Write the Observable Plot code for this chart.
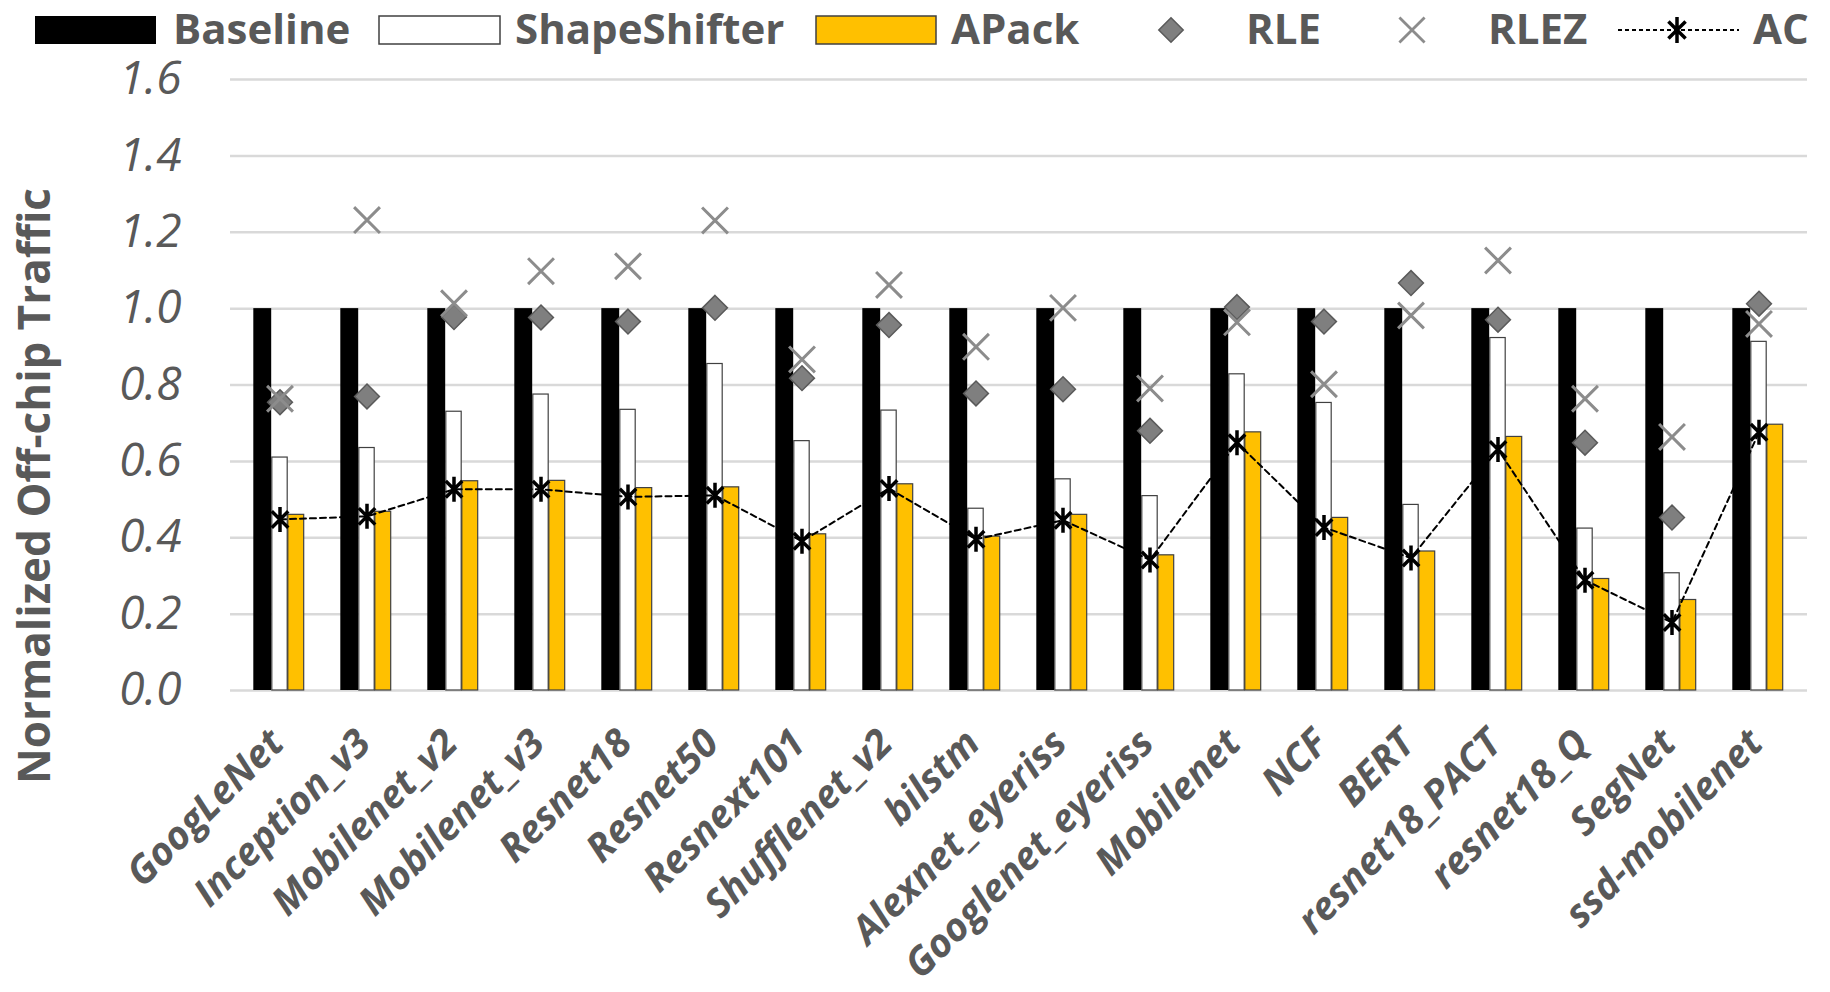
<!DOCTYPE html>
<html>
<head>
<meta charset="utf-8">
<script src="https://cdn.jsdelivr.net/npm/d3@7"></script>
<script src="https://cdn.jsdelivr.net/npm/@observablehq/plot@0.6"></script>
<style>
  html, body { margin: 0; padding: 0; background: #fff; overflow: hidden; }
  #legend { display: block; }
  #legend text { font-family: "Open Sans", sans-serif; font-weight: bold; font-size: 42px; fill: #595959; }
</style>
</head>
<body>
<div id="chart"></div>
<script>
// ---------- data ----------
const categories = ["GoogLeNet", "Inception_v3", "Mobilenet_v2", "Mobilenet_v3", "Resnet18", "Resnet50",
  "Resnext101", "Shufflenet_v2", "bilstm", "Alexnet_eyeriss", "Googlenet_eyeriss", "Mobilenet",
  "NCF", "BERT", "resnet18_PACT", "resnet18_Q", "SegNet", "ssd-mobilenet"];
const seriesNames = ["Baseline", "ShapeShifter", "APack", "RLE", "RLEZ", "AC"];
const baseline     = [1.0, 1.0, 1.0, 1.0, 1.0, 1.0, 1.0, 1.0, 1.0, 1.0, 1.0, 1.0, 1.0, 1.0, 1.0, 1.0, 1.0, 1.0];
const shapeShifter = [0.61, 0.635, 0.73, 0.775, 0.735, 0.855, 0.653, 0.733, 0.476, 0.553, 0.509, 0.828, 0.753, 0.486, 0.923, 0.424, 0.307, 0.913];
const apack        = [0.46, 0.468, 0.548, 0.549, 0.53, 0.532, 0.409, 0.54, 0.403, 0.46, 0.354, 0.676, 0.452, 0.364, 0.664, 0.292, 0.237, 0.696];
const rle          = [0.755, 0.77, 0.978, 0.977, 0.966, 1.002, 0.818, 0.957, 0.778, 0.789, 0.68, 1.004, 0.966, 1.067, 0.971, 0.649, 0.453, 1.013];
const rlez         = [0.764, 1.232, 1.014, 1.098, 1.111, 1.231, 0.867, 1.062, 0.9, 1.002, 0.791, 0.964, 0.802, 0.982, 1.126, 0.764, 0.664, 0.96];
const ac           = [0.448, 0.456, 0.527, 0.527, 0.507, 0.511, 0.391, 0.529, 0.396, 0.446, 0.342, 0.649, 0.427, 0.347, 0.631, 0.289, 0.178, 0.676];
const yTicks      = [0, 0.2, 0.4, 0.6, 0.8, 1.0, 1.2, 1.4, 1.6];
const yTickLabels = ["0.0", "0.2", "0.4", "0.6", "0.8", "1.0", "1.2", "1.4", "1.6"];
const yTitle = "Normalized Off-chip Traffic";

// ---------- layout ----------
const W = 1830, LEG_H = 56, H = 992 - LEG_H;
const mL = 230, mR = 23, mT = 23, mB = 302;
const step = (W - mL - mR) / categories.length;
const bwBlack = 18.5, bwWhite = 16, bwYellow = 16.5;
const textColor = "#595959";
const font = "'Open Sans', sans-serif";

// Excel-like asterisk: vertical stroke plus a 45° cross
const excelAsterisk = {
  draw(context, size) {
    const r = Math.sqrt(size / Math.PI);
    const a = 0.66 * r;
    context.moveTo(0, -r); context.lineTo(0, r);
    context.moveTo(-a, -a); context.lineTo(a, a);
    context.moveTo(-a, a); context.lineTo(a, -a);
  }
};

const rows = categories.map((c, i) => ({
  cat: c, baseline: baseline[i], ss: shapeShifter[i], apack: apack[i],
  rle: rle[i], rlez: rlez[i], ac: ac[i]
}));
const tickRows = yTicks.map((v, i) => ({v, label: yTickLabels[i]}));

// ---------- legend (above the plot) ----------
const leg = d3.select("#chart").append("svg")
  .attr("id", "legend").attr("width", W).attr("height", LEG_H);
leg.append("rect").attr("x", 35).attr("y", 16).attr("width", 121).attr("height", 28).attr("fill", "#000");
leg.append("text").attr("x", 173).attr("y", 44).text(seriesNames[0]);
leg.append("rect").attr("x", 379).attr("y", 16).attr("width", 121).attr("height", 28)
  .attr("fill", "#fff").attr("stroke", "#404040").attr("stroke-width", 1.5);
leg.append("text").attr("x", 515).attr("y", 44).text(seriesNames[1]);
leg.append("rect").attr("x", 816).attr("y", 16).attr("width", 120).attr("height", 28)
  .attr("fill", "#FFC000").attr("stroke", "#404040").attr("stroke-width", 1.5);
leg.append("text").attr("x", 951).attr("y", 44).text(seriesNames[2]);
leg.append("path").attr("d", d3.symbol(d3.symbolDiamond2, Math.PI * 11 * 11)())
  .attr("transform", "translate(1171,30)").attr("fill", "#7f7f7f").attr("stroke", "#5a5a5a").attr("stroke-width", 1.5);
leg.append("text").attr("x", 1246).attr("y", 44).text(seriesNames[3]);
leg.append("path").attr("d", d3.symbol(d3.symbolTimes, Math.PI * 11.5 * 11.5)())
  .attr("transform", "translate(1412,30)").attr("fill", "none").attr("stroke", "#8c8c8c").attr("stroke-width", 2.8);
leg.append("text").attr("x", 1488).attr("y", 44).text(seriesNames[4]);
leg.append("line").attr("x1", 1618).attr("x2", 1739).attr("y1", 30).attr("y2", 30)
  .attr("stroke", "#000").attr("stroke-width", 2).attr("stroke-dasharray", "4,3");
leg.append("path").attr("d", d3.symbol(excelAsterisk, Math.PI * 13 * 13)())
  .attr("transform", "translate(1677,30)").attr("fill", "none").attr("stroke", "#000").attr("stroke-width", 3.5);
leg.append("text").attr("x", 1753).attr("y", 44).text(seriesNames[5]);

// ---------- plot ----------
const half = step / 2;
const chart = Plot.plot({
  width: W, height: H,
  marginTop: mT, marginBottom: mB, marginLeft: mL, marginRight: mR,
  style: {background: "#fff", fontFamily: font, overflow: "visible"},
  x: {type: "band", domain: categories, padding: 0, axis: null},
  y: {domain: [0, 1.6], axis: null},
  marks: [
    Plot.ruleY(tickRows, {y: "v", stroke: "#d9d9d9", strokeWidth: 2.5}),
    Plot.text(tickRows, {y: "v", text: "label", frameAnchor: "left", dx: -49, textAnchor: "end",
      fontStyle: "italic", fontSize: 46, fill: textColor}),
    Plot.barY(rows, {x: "cat", y: "baseline", fill: "#000",
      insetLeft: half - bwWhite / 2 - bwBlack, insetRight: half + bwWhite / 2}),
    Plot.barY(rows, {x: "cat", y: "ss", fill: "#fff", stroke: "#404040", strokeWidth: 1.2,
      insetLeft: half - bwWhite / 2, insetRight: half - bwWhite / 2}),
    Plot.barY(rows, {x: "cat", y: "apack", fill: "#FFC000", stroke: "#404040", strokeWidth: 1.2,
      insetLeft: half + bwWhite / 2, insetRight: half - bwWhite / 2 - bwYellow}),
    Plot.line(rows, {x: "cat", y: "ac", stroke: "#000", strokeWidth: 2, strokeDasharray: "6,4"}),
    Plot.dot(rows, {x: "cat", y: "rle", symbol: "diamond2", r: 11.2, fill: "#7f7f7f",
      stroke: "#5a5a5a", strokeWidth: 1.5}),
    Plot.dot(rows, {x: "cat", y: "rlez", symbol: "times", r: 11.8, stroke: "#8c8c8c", strokeWidth: 3}),
    Plot.dot(rows, {x: "cat", y: "ac", symbol: excelAsterisk, r: 12.5, stroke: "#000", strokeWidth: 3.5}),
    Plot.text(categories, {x: d => d, text: d => d, frameAnchor: "bottom", rotate: -45, textAnchor: "end",
      dx: 6, dy: 55, fontSize: 39, fontWeight: "bold", fontStyle: "italic", fill: textColor}),
    Plot.text([yTitle], {text: d => d, frameAnchor: "left", rotate: -90, textAnchor: "middle",
      dx: -195, dy: 101, fontSize: 44, fontWeight: "bold", fill: textColor})
  ]
});
document.getElementById("chart").appendChild(chart);
</script>
</body>
</html>
